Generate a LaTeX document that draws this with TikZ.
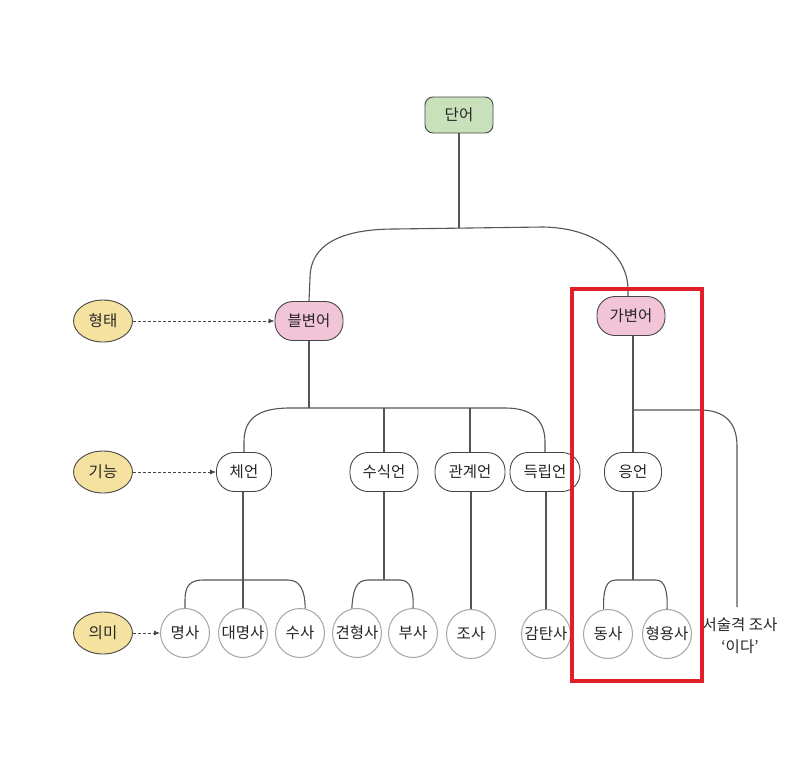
\documentclass[tikz,border=0pt]{standalone}
\usepackage{fontspec}
\setmainfont{Noto Sans CJK KR}
\usetikzlibrary{arrows.meta,shapes.geometric}
\definecolor{gfill}{RGB}{200,225,187}
\definecolor{pfill}{RGB}{242,196,216}
\definecolor{yfill}{RGB}{246,226,160}
\definecolor{edge}{RGB}{70,70,70}
\definecolor{lnk}{RGB}{85,85,85}
\definecolor{cgray}{RGB}{165,165,165}
\definecolor{redbox}{RGB}{226,30,40}
\begin{document}
\begin{tikzpicture}[x=1pt,y=-1pt,
  every node/.style={font=\fontsize{15.5}{19}\selectfont, text=black!85, inner sep=0pt},
  topbox/.style={draw=edge, line width=0.9pt, fill=gfill, rounded corners=8pt, minimum width=68pt, minimum height=36pt},
  pill/.style={draw=edge, line width=0.9pt, rounded corners=18pt, minimum height=39pt},
  pinkpill/.style={pill, fill=pfill, minimum width=68pt},
  whitepill/.style={pill, fill=white},
  lab/.style={ellipse, draw=edge, line width=0.9pt, fill=yfill, minimum width=59pt, minimum height=42pt},
  leaf/.style={circle, draw=cgray, line width=1pt, fill=white, minimum size=49pt},
  link/.style={draw=lnk, line width=1.1pt},
  dasharrow/.style={draw=edge, line width=0.8pt, densely dashed, -{Latex[length=6pt,width=5pt]}}
]
\fill[white] (0,0) rectangle (812,769);
\useasboundingbox (0,0) rectangle (812,769);

% top
\node[topbox] (dan) at (459,115) {단어};
\node[pinkpill] (bul) at (309,321) {블변어};
\node[pinkpill] (ga) at (631,316) {가변어};
\node[lab] (hy) at (103,321) {형태};

% function row
\node[lab] (gi) at (103,472) {기능};
\node[whitepill, minimum width=55pt] (che) at (244,472) {체언};
\node[whitepill, minimum width=68pt] (su) at (384,472) {수식언};
\node[whitepill, minimum width=70pt] (gw) at (470,472) {관계언};
\node[whitepill, minimum width=70pt] (dok) at (545,472) {득립언};
\node[whitepill, minimum width=57pt] (yong) at (633,472) {응언};

% meaning row
\node[lab] (ui) at (103,633) {의미};
\node[leaf] (myeong) at (185,633) {명사};
\node[leaf] (dae) at (243,633) {대명사};
\node[leaf] (susa) at (300,633) {수사};
\node[leaf] (gyeon) at (357,633) {견형사};
\node[leaf] (busa) at (413,633) {부사};
\node[leaf] (josa) at (471,634) {조사};
\node[leaf] (gam) at (546,634) {감탄사};
\node[leaf] (dong) at (608,634) {동사};
\node[leaf] (hyeong) at (667,634) {형용사};
\node[align=center, font=\fontsize{15.5}{22}\selectfont] (seo) at (740,636) {서술격 조사\\‘이다’};
\coordinate (seoTop) at (737,607);

% dashed arrows
\draw[dasharrow] (hy.east) -- (bul.west);
\draw[dasharrow] (gi.east) -- (che.west);
\draw[dasharrow] (ui.east) -- (myeong.west);

% level 1 connectors
\coordinate (j1) at (459,228);
\draw[link] (dan.south) -- (j1);
\draw[link] (bul.north) -- (310,278) .. controls (310,245) and (340,229) .. (395,229) -- (543,227) .. controls (600,228) and (628,258) .. (628,290) -- (ga.north -| 628,0);

% level 2 connectors
\coordinate (j2) at (309,408);
\draw[link] (bul.south) -- (j2);
\draw[link] (che.north) -- (244,442) .. controls (244,418) and (259,408) .. (290,408) -- (505,408) .. controls (532,408) and (545,420) .. (545,442) -- (dok.north);
\draw[link] (su.north |- j2) -- (su.north);
\draw[link] (gw.north |- j2) -- (gw.north);

\draw[link] (ga.south -| yong.north) -- (yong.north);
\draw[link] (633,410) -- (700,410) .. controls (726,410) and (737,424) .. (737,446) -- (seoTop);

% level 3 connectors
\coordinate (j3) at (0,580);
\draw[link] (che.south -| dae.north) -- (dae.north);
\draw[link] (myeong.north) -- (185,600) .. controls (185,586) and (190,580) .. (203,580) -- (288,580) .. controls (300,580) and (305,590) .. (susa.78);
\draw[link] (su.south) -- (su.south |- j3);
\draw[link] (gyeon.102) .. controls (353,590) and (356,580) .. (368,580) -- (400,580) .. controls (410,580) and (414,590) .. (busa.north);
\draw[link] (gw.south -| josa.north) -- (josa.north);
\draw[link] (dok.south -| gam.north) -- (gam.north);
\draw[link] (yong.south) -- (yong.south |- j3);
\draw[link] (dong.100) .. controls (603,590) and (606,580) .. (616,580) -- (656,580) .. controls (665,580) and (668,592) .. (hyeong.north);

% highlight
\draw[redbox, line width=4.5pt] (572,289) rectangle (702,681);
\end{tikzpicture}
\end{document}
